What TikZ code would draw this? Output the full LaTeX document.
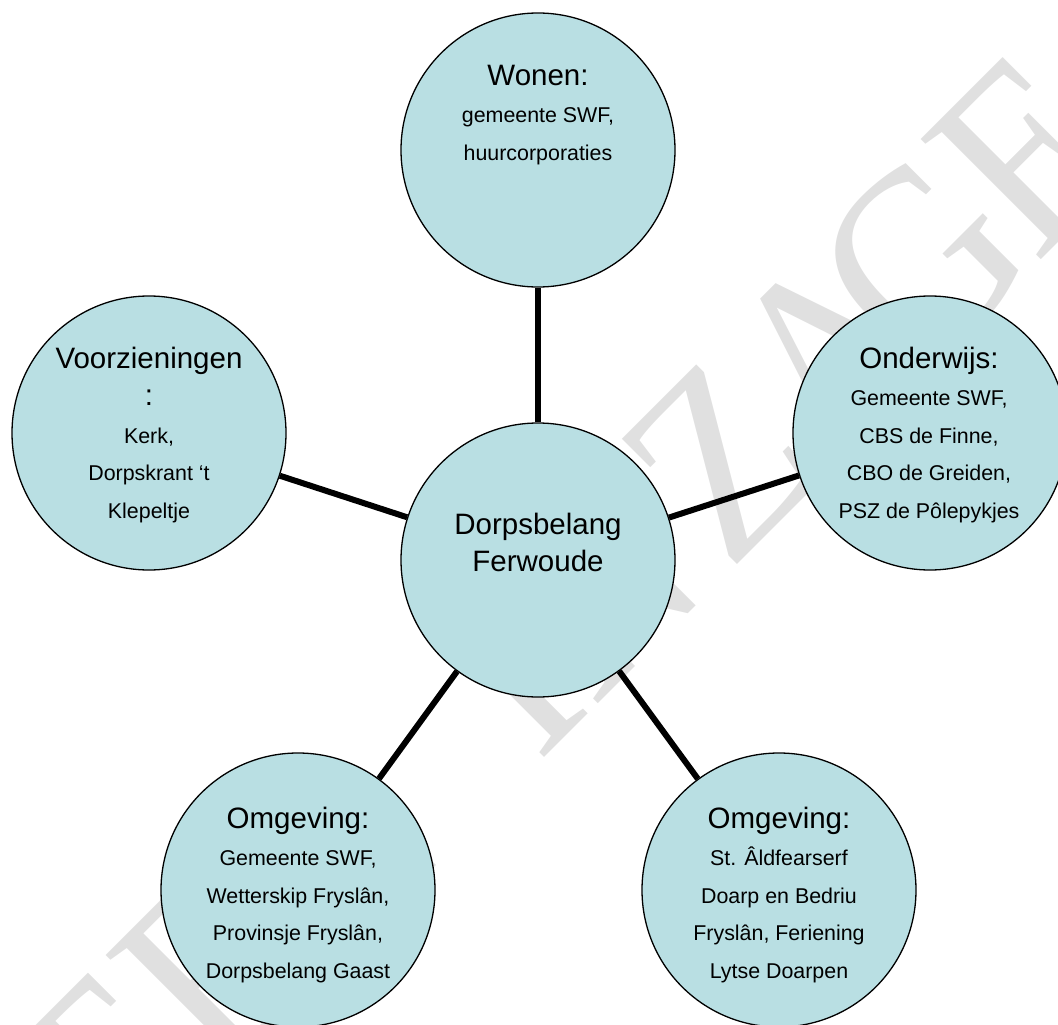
\documentclass[tikz,border=0pt]{standalone}
\usepackage{fontspec}
\usepackage{graphicx}
\setmainfont{Liberation Sans}
\newfontfamily\wmfont{Liberation Serif}
\tikzset{
  bub/.style={circle,draw=black,line width=1.3pt,fill=bubfill,minimum size=274pt,inner sep=0pt},
  link/.style={line width=6pt,black},
  txt/.style={align=center,anchor=north,inner sep=0pt,text=black,font=\fontsize{21.4}{37.4}\selectfont},
  watermark/.style={text=wmgray,rotate=45,inner sep=0pt,font=\wmfont\fontsize{236}{236}\selectfont}
}
\definecolor{bubfill}{HTML}{B9DFE3}
\definecolor{wmgray}{HTML}{E0E0E0}
\newcommand{\ttl}[1]{{\fontsize{29.5}{37.4}\selectfont #1}}
\begin{document}
\begin{tikzpicture}[x=1pt,y=-1pt]
\useasboundingbox (0,0) rectangle (1058,1025);
\node[watermark] (wm) at (564,618) {\scalebox{1}[1.1]{T\kern15pt E\kern3pt R\kern84pt\ I\kern0pt N\kern22pt Z\kern-2pt A\kern-43pt G\kern-6pt E}};
\node[bub] (c) at (538,560) {};
\node[bub] (w) at (538,150) {};
\node[bub] (o) at (930,433) {};
\node[bub] (v) at (149,433) {};
\node[bub] (l) at (298,890) {};
\node[bub] (r) at (779,890) {};
\draw[link] (c) -- (w);
\draw[link] (c) -- (o);
\draw[link] (c) -- (v);
\draw[link] (c) -- (l);
\draw[link] (c) -- (r);
\node[txt] (tw) at (538,65) {\ttl{Wonen:}\\gemeente SWF,\\huurcorporaties};
\node[txt] (to) at (929,347) {\ttl{Onderwijs:}\\Gemeente SWF,\\CBS de Finne,\\CBO de Greiden,\\PSZ de Pôlepykjes};
\node[txt] (tv) at (149,347) {\ttl{Voorzieningen}\\\ttl{:}\\Kerk,\\Dorpskrant ‘t\\Klepeltje};
\node[txt] (tl) at (298,807) {\ttl{Omgeving:}\\Gemeente SWF,\\Wetterskip Fryslân,\\Provinsje Fryslân,\\Dorpsbelang Gaast};
\node[txt] (tr) at (779,807) {\ttl{Omgeving:}\\St. Âldfearserf\\Doarp en Bedriu\\Fryslân, Feriening\\Lytse Doarpen};
\node[txt,font=\fontsize{29.5}{37}\selectfont] (tc) at (538,513) {Dorpsbelang\\Ferwoude};
\end{tikzpicture}
\end{document}
